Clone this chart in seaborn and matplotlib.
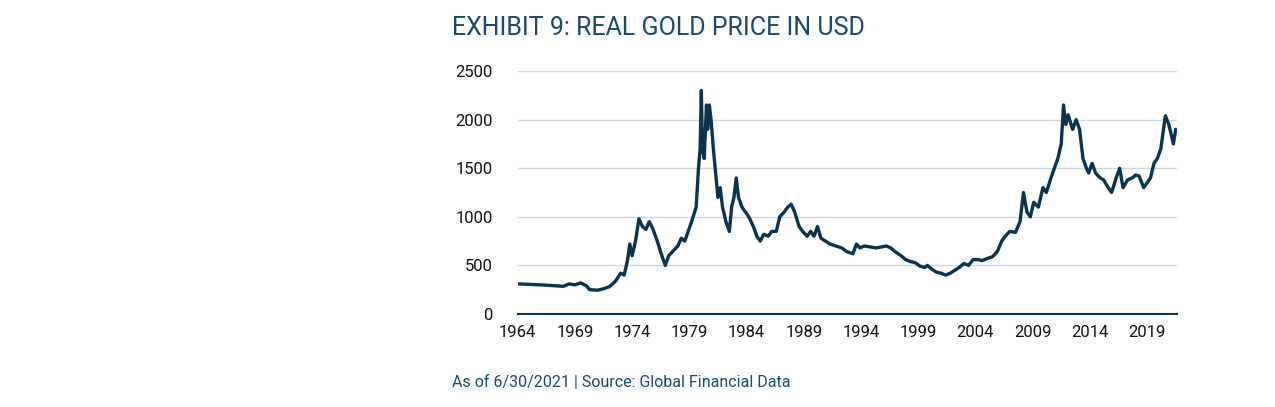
import numpy as np
import pandas as pd
import matplotlib
matplotlib.use("Agg")
import matplotlib.pyplot as plt
import seaborn as sns

years = [1964, 1966, 1968, 1968.5, 1969, 1969.5, 1970, 1970.3, 1971, 1971.5, 1972, 1972.5,
         1973, 1973.3, 1973.6, 1973.8, 1974.0, 1974.3, 1974.6, 1974.9, 1975.2, 1975.5, 1975.8,
         1976.2, 1976.6, 1976.9, 1977.2, 1977.6, 1978, 1978.3, 1978.6, 1978.9, 1979.2, 1979.6,
         1979.8, 1979.95, 1980.05, 1980.15, 1980.3, 1980.5, 1980.6, 1980.75, 1980.9, 1981.1,
         1981.3, 1981.5, 1981.7, 1981.9, 1982.2, 1982.5, 1982.7, 1982.9, 1983.1, 1983.3, 1983.6,
         1983.9, 1984.2, 1984.6, 1984.9, 1985.2, 1985.5, 1985.9, 1986.2, 1986.6, 1986.9, 1987.3,
         1987.6, 1987.9, 1988.2, 1988.6, 1988.9, 1989.3, 1989.6, 1989.9, 1990.2, 1990.5, 1990.9,
         1991.3, 1991.8, 1992.3, 1992.8, 1993.3, 1993.6, 1993.9, 1994.3, 1994.8, 1995.3, 1995.8,
         1996.2, 1996.6, 1997.0, 1997.5, 1997.9, 1998.3, 1998.7, 1999.2, 1999.6, 1999.8, 2000.2,
         2000.6, 2001.0, 2001.4, 2001.8, 2002.2, 2002.6, 2003.0, 2003.4, 2003.8, 2004.2, 2004.6,
         2005.0, 2005.5, 2005.9, 2006.3, 2006.6, 2007.0, 2007.5, 2007.9, 2008.2, 2008.5, 2008.8,
         2009.1, 2009.5, 2009.9, 2010.2, 2010.6, 2010.9, 2011.2, 2011.5, 2011.7, 2011.9, 2012.1,
         2012.5, 2012.8, 2013.1, 2013.4, 2013.7, 2013.9, 2014.2, 2014.5, 2014.9, 2015.2, 2015.6,
         2015.9, 2016.3, 2016.6, 2016.9, 2017.3, 2017.7, 2018.0, 2018.3, 2018.7, 2019.0, 2019.3,
         2019.6, 2019.9, 2020.2, 2020.6, 2020.9, 2021.1, 2021.3, 2021.5]
price = [310, 300, 285, 310, 300, 320, 290, 250, 245, 260, 280, 330,
         420, 400, 550, 720, 600, 750, 980, 900, 870, 950, 880,
         750, 600, 500, 600, 650, 700, 780, 750, 850, 950, 1100,
         1500, 1700, 2300, 1700, 1600, 2150, 1900, 2150, 2000, 1700,
         1450, 1200, 1300, 1100, 950, 850, 1100, 1200, 1400, 1200, 1100,
         1050, 1000, 900, 800, 750, 820, 800, 850, 850, 1000, 1050,
         1100, 1130, 1050, 900, 850, 800, 850, 800, 900, 780, 750,
         720, 700, 680, 640, 620, 720, 680, 700, 690, 680, 690,
         700, 680, 640, 600, 560, 540, 530, 490, 480, 500, 460,
         430, 420, 400, 420, 450, 480, 520, 500, 560, 560, 550,
         570, 590, 640, 750, 800, 850, 840, 950, 1250, 1050, 1000,
         1150, 1100, 1300, 1250, 1400, 1500, 1600, 1750, 2150, 1950, 2050,
         1900, 2000, 1900, 1600, 1500, 1450, 1550, 1450, 1400, 1380, 1300,
         1250, 1400, 1500, 1300, 1380, 1400, 1430, 1420, 1300, 1350, 1400,
         1550, 1600, 1700, 2040, 1950, 1850, 1750, 1900]
x_ticks = list(range(1964, 2020, 5))
y_ticks = [0, 500, 1000, 1500, 2000, 2500]

navy = "#0b3350"
text_col = "#1d4a6b"

sns.set_style("white")
plt.rcParams["font.family"] = ["Roboto", "DejaVu Sans"]

df = pd.DataFrame({"year": years, "price": price})

fig = plt.figure(figsize=(12.75, 4.07), dpi=100)
ax = fig.add_axes([0.406, 0.2285, 0.517, 0.597])
sns.lineplot(data=df, x="year", y="price", ax=ax, color=navy, linewidth=2.4)

ax.set_xlim(1964, 2021.6)
ax.set_ylim(0, 2500)
ax.set_xticks(x_ticks)
ax.set_yticks(y_ticks)
ax.set_xlabel("")
ax.set_ylabel("")
ax.grid(axis="y", color="#c9d9e5", linewidth=1)
ax.grid(axis="x", visible=False)
for s in ["left", "right", "top"]:
    ax.spines[s].set_visible(False)
ax.spines["bottom"].set_color(navy)
ax.spines["bottom"].set_linewidth(1.5)
ax.tick_params(axis="both", length=0, labelsize=12, colors="#111111")
ax.tick_params(axis="x", pad=8)
ax.tick_params(axis="y", pad=18)

fig.text(0.3545, 0.93, "EXHIBIT 9: REAL GOLD PRICE IN USD", fontsize=18,
         color=text_col, va="center", ha="left")
fig.text(0.3545, 0.059, "As of 6/30/2021 | Source: Global Financial Data", fontsize=11.5,
         color=text_col, va="center", ha="left")

fig.savefig("out.png", dpi=100)
